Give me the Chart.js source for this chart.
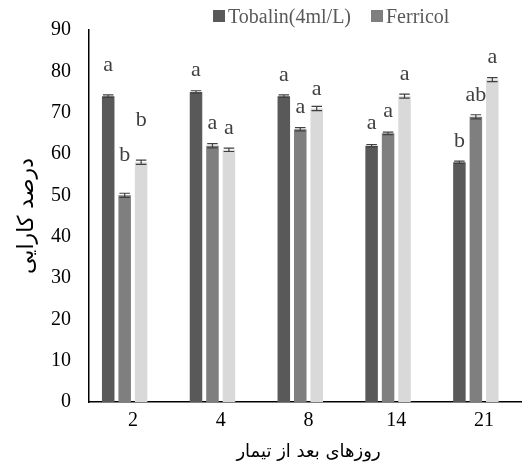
<!DOCTYPE html>
<html>
<head>
<meta charset="utf-8">
<script src="https://cdn.jsdelivr.net/npm/chart.js@4.4.1/dist/chart.umd.min.js"></script>
<style>
    html, body { margin: 0; padding: 0; background: #fff; overflow: hidden; }
    #wrap { width: 522px; height: 470px; overflow: hidden; }
</style>
</head>
<body>
<div id="wrap"><canvas id="chart" width="530" height="470"></canvas></div>
<script>
    // ── Datos ─────────────────────────────────────────────────────
    const days = ['2', '4', '8', '14', '21'];
    const tobalin = [74, 75, 74, 62, 58];
    const ferricol = [50, 62, 66, 65, 69];
    const third = [58, 61, 71, 74, 78];
    const tobalinErr = [0.3, 0.3, 0.3, 0.3, 0.3];
    const ferricolErr = [0.5, 0.5, 0.4, 0.3, 0.5];
    const thirdErr = [0.5, 0.4, 0.5, 0.5, 0.5];
    const tobalinLetters = ['a', 'a', 'a', 'a', 'b'];
    const ferricolLetters = ['b', 'a', 'a', 'a', 'ab'];
    const thirdLetters = ['b', 'a', 'a', 'a', 'a'];
    const tobalinLetterAt = [80, 78.8, 77.6, 66.1, 61.8];
    const ferricolLetterAt = [58.2, 66.1, 69.9, 69.0, 72.8];
    const thirdLetterAt = [66.8, 64.9, 74.3, 78.0, 82.1];
    const yTicks = [0, 10, 20, 30, 40, 50, 60, 70, 80, 90];
    const emptySlot = [null, null, null, null, null];

    const errSets = [tobalinErr, ferricolErr, thirdErr];
    const letterSets = [tobalinLetters, ferricolLetters, thirdLetters];
    const letterAtSets = [tobalinLetterAt, ferricolLetterAt, thirdLetterAt];

    const SERIF = '"Liberation Serif", "Times New Roman", serif';
    const PERSIAN = '"DejaVu Sans", "Noto Sans", sans-serif';

    // ── Barras de error + letras + leyenda ────────────────────────
    const extras = {
        id: 'extras',
        afterDatasetsDraw(chart) {
            const { ctx, scales: { y } } = chart;
            ctx.save();
            errSets.forEach((errs, di) => {
                const meta = chart.getDatasetMeta(di);
                const vals = chart.data.datasets[di].data;
                meta.data.forEach((bar, i) => {
                    const v = vals[i], e = errs[i];
                    const yt = y.getPixelForValue(v + e), yb = y.getPixelForValue(v - e);
                    const hw = bar.width * 0.42;
                    ctx.strokeStyle = '#404040';
                    ctx.lineWidth = 1.2;
                    ctx.beginPath();
                    ctx.moveTo(bar.x, yt); ctx.lineTo(bar.x, yb);
                    ctx.moveTo(bar.x - hw, yt); ctx.lineTo(bar.x + hw, yt);
                    ctx.moveTo(bar.x - hw, yb); ctx.lineTo(bar.x + hw, yb);
                    ctx.stroke();
                    ctx.fillStyle = '#404040';
                    ctx.font = '22px ' + SERIF;
                    ctx.textAlign = 'center';
                    ctx.textBaseline = 'alphabetic';
                    ctx.fillText(letterSets[di][i], bar.x, y.getPixelForValue(letterAtSets[di][i]));
                });
            });
            ctx.restore();
        },
        afterDraw(chart) {
            // sólo las dos primeras series aparecen en la leyenda del original
            const { ctx } = chart;
            const spots = [213, 371];
            ctx.save();
            ctx.font = '20px ' + SERIF;
            ctx.textBaseline = 'alphabetic';
            ctx.textAlign = 'left';
            spots.forEach((x, di) => {
                const ds = chart.data.datasets[di];
                ctx.fillStyle = ds.backgroundColor;
                ctx.fillRect(x, 10, 12, 12);
                ctx.fillStyle = '#595959';
                ctx.fillText(ds.label, x + 15, 23);
            });
            ctx.restore();
        }
    };

    new Chart(document.getElementById('chart').getContext('2d'), {
        type: 'bar',
        data: {
            labels: days,
            datasets: [
                { label: 'Tobalin(4ml/L)', data: tobalin, backgroundColor: '#595959' },
                { label: 'Ferricol', data: ferricol, backgroundColor: '#7f7f7f' },
                { label: '', data: third, backgroundColor: '#d9d9d9' },
                { label: '', data: emptySlot, backgroundColor: '#bfbfbf' },
            ]
        },
        options: {
            responsive: false, animation: false,
            categoryPercentage: 0.75, barPercentage: 0.76,
            layout: { padding: { top: 25, right: 2, left: 0, bottom: 0 } },
            plugins: { legend: { display: false }, tooltip: { enabled: false } },
            scales: {
                x: {
                    grid: { display: false, drawTicks: false },
                    border: { color: '#000', width: 1.5 },
                    ticks: { font: { family: SERIF, size: 20 }, color: '#000', padding: 7 },
                    title: { display: true, text: 'روزهای بعد از تیمار', color: '#000',
                             font: { family: PERSIAN, size: 18 }, padding: { top: 0, bottom: 7 } },
                    afterFit: s => { s.height = 68; }
                },
                y: {
                    min: 0, max: 90,
                    grid: { display: false, drawTicks: false },
                    border: { color: '#000', width: 1.5 },
                    afterBuildTicks: s => { s.ticks = yTicks.map(v => ({ value: v })); },
                    ticks: { font: { family: SERIF, size: 20 }, color: '#000', padding: 18 },
                    title: { display: true, text: 'درصد کارایی', color: '#000',
                             font: { family: PERSIAN, size: 22 }, padding: { top: 14, bottom: 0 } },
                    afterFit: s => { s.width = 89; }
                }
            }
        },
        plugins: [extras]
    });
</script>
</body>
</html>
